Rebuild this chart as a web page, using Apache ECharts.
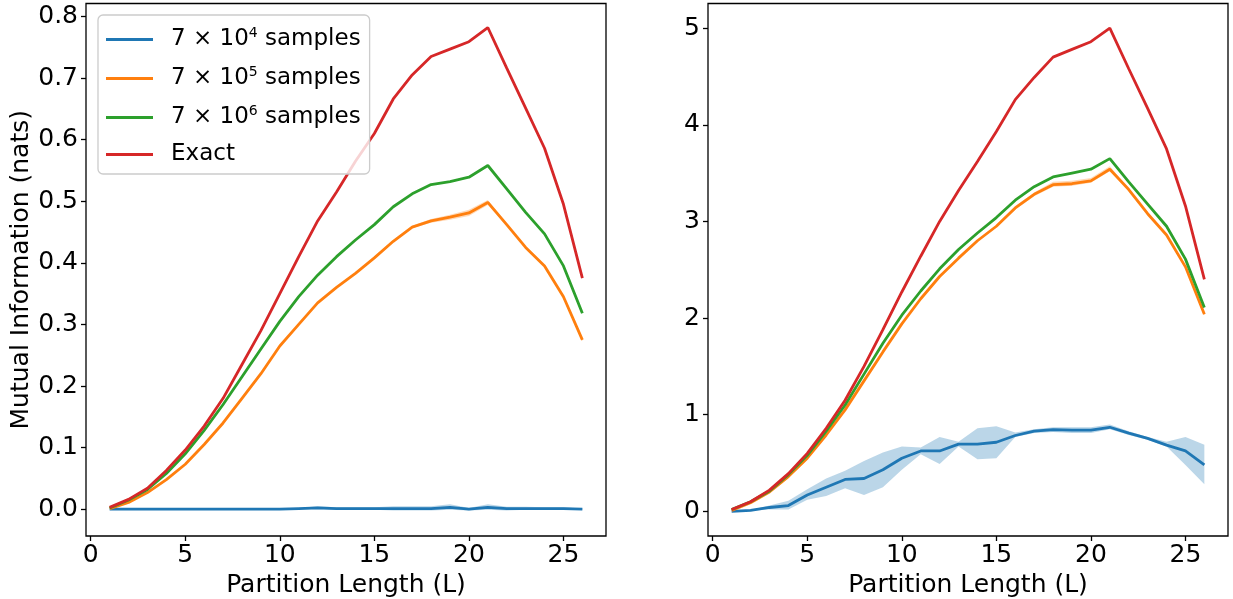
<!DOCTYPE html>
<html>
<head>
<meta charset="utf-8">
<script src="https://cdn.jsdelivr.net/npm/echarts@6/dist/echarts.min.js"></script>
<style>
html,body{margin:0;padding:0;background:#fff;}
#c{width:1233px;height:599px;}
</style>
</head>
<body>
<div id="c"></div>
<script>
// ---------- data ----------
const L = [1,2,3,4,5,6,7,8,9,10,11,12,13,14,15,16,17,18,19,20,21,22,23,24,25,26];
const xTicks = [0,5,10,15,20,25];
const yTicksLeft = [0.0,0.1,0.2,0.3,0.4,0.5,0.6,0.7,0.8];
const yTicksRight = [0,1,2,3,4,5];
const legendBase = ['7 × 10','7 × 10','7 × 10','Exact'];
const legendExp = ['4','5','6',''];
const legendTail = [' samples',' samples',' samples',''];
const seriesNames = ['7e4 samples','7e5 samples','7e6 samples','Exact'];
const xLabel = 'Partition Length (L)';
const yLabel = 'Mutual Information (nats)';

// left panel
const blueL   = [0.000,0.000,0.000,0.000,0.000,0.000,0.000,0.000,0.000,0.000,0.001,0.002,0.001,0.001,0.001,0.001,0.001,0.001,0.003,0.000,0.003,0.001,0.001,0.001,0.001,0.000];
const blueLoL = [0.000,-0.001,-0.001,-0.001,-0.001,-0.001,-0.001,-0.001,-0.001,-0.001,0.000,0.000,-0.001,-0.001,-0.001,-0.002,-0.002,-0.002,-0.001,-0.002,-0.001,-0.002,-0.001,-0.001,-0.001,-0.001];
const blueHiL = [0.000,0.001,0.001,0.001,0.001,0.001,0.001,0.001,0.001,0.001,0.002,0.005,0.003,0.003,0.003,0.005,0.005,0.005,0.008,0.002,0.008,0.004,0.004,0.003,0.003,0.001];
const orangeL   = [0.001,0.011,0.027,0.048,0.073,0.105,0.140,0.180,0.220,0.265,0.300,0.335,0.360,0.383,0.408,0.435,0.458,0.468,0.474,0.481,0.498,0.462,0.425,0.395,0.345,0.275];
const orangeLoL = [0.001,0.010,0.026,0.047,0.072,0.104,0.139,0.179,0.219,0.264,0.299,0.334,0.359,0.382,0.406,0.433,0.456,0.465,0.470,0.476,0.494,0.460,0.423,0.393,0.343,0.273];
const orangeHiL = [0.001,0.012,0.028,0.049,0.074,0.106,0.141,0.181,0.221,0.266,0.301,0.336,0.361,0.384,0.410,0.437,0.460,0.471,0.478,0.486,0.502,0.464,0.427,0.397,0.347,0.277];
const greenL  = [0.002,0.015,0.032,0.058,0.090,0.128,0.170,0.215,0.260,0.305,0.345,0.380,0.410,0.437,0.462,0.491,0.512,0.527,0.532,0.539,0.558,0.520,0.482,0.447,0.395,0.318];
const exactL  = [0.003,0.016,0.034,0.063,0.096,0.135,0.180,0.235,0.290,0.350,0.410,0.468,0.515,0.565,0.610,0.666,0.705,0.735,0.747,0.759,0.782,0.716,0.651,0.586,0.495,0.375];

// right panel
const blueR   = [0.00,0.01,0.04,0.06,0.17,0.25,0.33,0.34,0.43,0.55,0.625,0.625,0.695,0.695,0.715,0.785,0.83,0.845,0.84,0.84,0.87,0.81,0.755,0.685,0.625,0.48];
const blueLoR = [0.00,0.005,0.02,0.02,0.12,0.16,0.24,0.17,0.25,0.43,0.59,0.49,0.67,0.54,0.55,0.77,0.81,0.82,0.81,0.81,0.85,0.79,0.74,0.67,0.48,0.28];
const blueHiR = [0.00,0.015,0.06,0.11,0.23,0.34,0.42,0.52,0.61,0.67,0.66,0.77,0.72,0.86,0.88,0.815,0.85,0.87,0.87,0.87,0.90,0.83,0.77,0.72,0.77,0.69];
const orangeR   = [0.01,0.09,0.20,0.36,0.55,0.79,1.05,1.35,1.65,1.94,2.20,2.43,2.62,2.80,2.95,3.14,3.28,3.38,3.39,3.42,3.54,3.33,3.08,2.86,2.53,2.04];
const orangeLoR = [0.01,0.085,0.19,0.35,0.54,0.78,1.04,1.34,1.64,1.93,2.19,2.42,2.61,2.79,2.94,3.12,3.26,3.36,3.37,3.40,3.52,3.32,3.07,2.85,2.52,2.03];
const orangeHiR = [0.01,0.095,0.21,0.37,0.56,0.80,1.06,1.36,1.66,1.95,2.21,2.44,2.63,2.81,2.96,3.16,3.30,3.41,3.42,3.45,3.57,3.34,3.09,2.87,2.54,2.05];
const greenR  = [0.02,0.10,0.21,0.38,0.58,0.83,1.10,1.42,1.74,2.03,2.28,2.51,2.71,2.88,3.04,3.22,3.36,3.46,3.50,3.54,3.65,3.41,3.18,2.95,2.61,2.11];
const exactR  = [0.02,0.10,0.22,0.39,0.60,0.86,1.15,1.50,1.88,2.27,2.64,3.00,3.32,3.62,3.93,4.26,4.49,4.70,4.78,4.86,5.00,4.58,4.17,3.75,3.16,2.40];

// ---------- chart ----------
const COLORS = ['#1f77b4','#ff7f0e','#2ca02c','#d62728'];
const FONT = 'DejaVu Sans';
const FS = 25;
const LFS = 23;

const pair = arr => L.map((x,i)=>[x, arr[i]]);

function band(lo, hi, color, g){
  return {
    type:'custom', xAxisIndex:g, yAxisIndex:g, silent:true, clip:true, z:1,
    data:[[L[0], lo[0]]],
    renderItem:function(params, api){
      const pts = [];
      for (let i=0;i<L.length;i++) pts.push(api.coord([L[i], hi[i]]));
      for (let i=L.length-1;i>=0;i--) pts.push(api.coord([L[i], lo[i]]));
      return {type:'polygon', shape:{points:pts}, style:{fill:color, opacity:0.3, stroke:null}};
    }
  };
}
function line(name, arr, color, g){
  return {type:'line', name:name, xAxisIndex:g, yAxisIndex:g, data: pair(arr), symbol:'none', showSymbol:false,
          lineStyle:{color:color, width:2.8}, itemStyle:{color:color}, z:3};
}

const series = [
  band(blueLoL, blueHiL, COLORS[0], 0),
  band(orangeLoL, orangeHiL, COLORS[1], 0),
  line(seriesNames[0], blueL, COLORS[0], 0),
  line(seriesNames[1], orangeL, COLORS[1], 0),
  line(seriesNames[2], greenL, COLORS[2], 0),
  line(seriesNames[3], exactL, COLORS[3], 0),
  band(blueLoR, blueHiR, COLORS[0], 1),
  band(orangeLoR, orangeHiR, COLORS[1], 1),
  line(seriesNames[0], blueR, COLORS[0], 1),
  line(seriesNames[1], orangeR, COLORS[1], 1),
  line(seriesNames[2], greenR, COLORS[2], 1),
  line(seriesNames[3], exactR, COLORS[3], 1)
];

function xAxis(g){
  return {type:'value', gridIndex:g, min:-0.25, max:27.25,
    name:xLabel, nameLocation:'middle', nameGap:33,
    nameTextStyle:{fontFamily:FONT, fontSize:FS, color:'#000'},
    axisLine:{show:false, onZero:false}, splitLine:{show:false},
    axisTick:{show:true, length:5, inside:false, customValues:xTicks, lineStyle:{color:'#000', width:1.3}},
    axisLabel:{show:true, margin:7, customValues:xTicks, fontFamily:FONT, fontSize:FS, color:'#000'}};
}

const option = {
  backgroundColor:'#fff',
  animation:false,
  grid:[
    {left:86, top:3.5, width:520, height:532.5, show:true, borderColor:'#000', borderWidth:1.3, backgroundColor:'transparent', containLabel:false, outerBoundsMode:'none'},
    {left:708, top:3.5, width:520, height:532.5, show:true, borderColor:'#000', borderWidth:1.3, backgroundColor:'transparent', containLabel:false, outerBoundsMode:'none'}
  ],
  xAxis:[xAxis(0), xAxis(1)],
  yAxis:[
    {type:'value', gridIndex:0, min:-0.0435, max:0.821,
     name:yLabel, nameLocation:'middle', nameGap:50, nameRotate:90,
     nameTextStyle:{fontFamily:FONT, fontSize:FS, color:'#000'},
     axisLine:{show:false, onZero:false}, splitLine:{show:false},
     axisTick:{show:true, length:5, customValues:yTicksLeft, lineStyle:{color:'#000', width:1.3}},
     axisLabel:{show:true, margin:8, customValues:yTicksLeft, formatter:v=>Number(v).toFixed(1), fontFamily:FONT, fontSize:FS, color:'#000'}},
    {type:'value', gridIndex:1, min:-0.255, max:5.255,
     axisLine:{show:false, onZero:false}, splitLine:{show:false},
     axisTick:{show:true, length:5, customValues:yTicksRight, lineStyle:{color:'#000', width:1.3}},
     axisLabel:{show:true, margin:8, customValues:yTicksRight, formatter:v=>String(Math.round(v)), fontFamily:FONT, fontSize:FS, color:'#000'}}
  ],
  legend:{
    data: seriesNames,
    orient:'vertical', left:98, top:15,
    icon:'rect', itemWidth:47, itemHeight:3, itemGap:14,
    padding:[11,9,8,8],
    backgroundColor:'rgba(255,255,255,0.8)', borderColor:'#cccccc', borderWidth:1.3, borderRadius:5,
    formatter: function(name){
      const i = seriesNames.indexOf(name);
      if (legendExp[i]) return '{b|' + legendBase[i] + '}{s|' + legendExp[i] + '}{b|' + legendTail[i] + '}';
      return '{b|' + legendBase[i] + '}';
    },
    textStyle:{fontFamily:FONT, fontSize:LFS, color:'#000', padding:[0,0,0,13],
      rich:{
        b:{fontFamily:FONT, fontSize:LFS, color:'#000', lineHeight:27},
        s:{fontFamily:FONT, fontSize:14, color:'#000', lineHeight:19, verticalAlign:'top'}
      }}
  },
  series: series
};

const chart = echarts.init(document.getElementById('c'), null, {renderer:'canvas'});
chart.setOption(option);
</script>
</body>
</html>
